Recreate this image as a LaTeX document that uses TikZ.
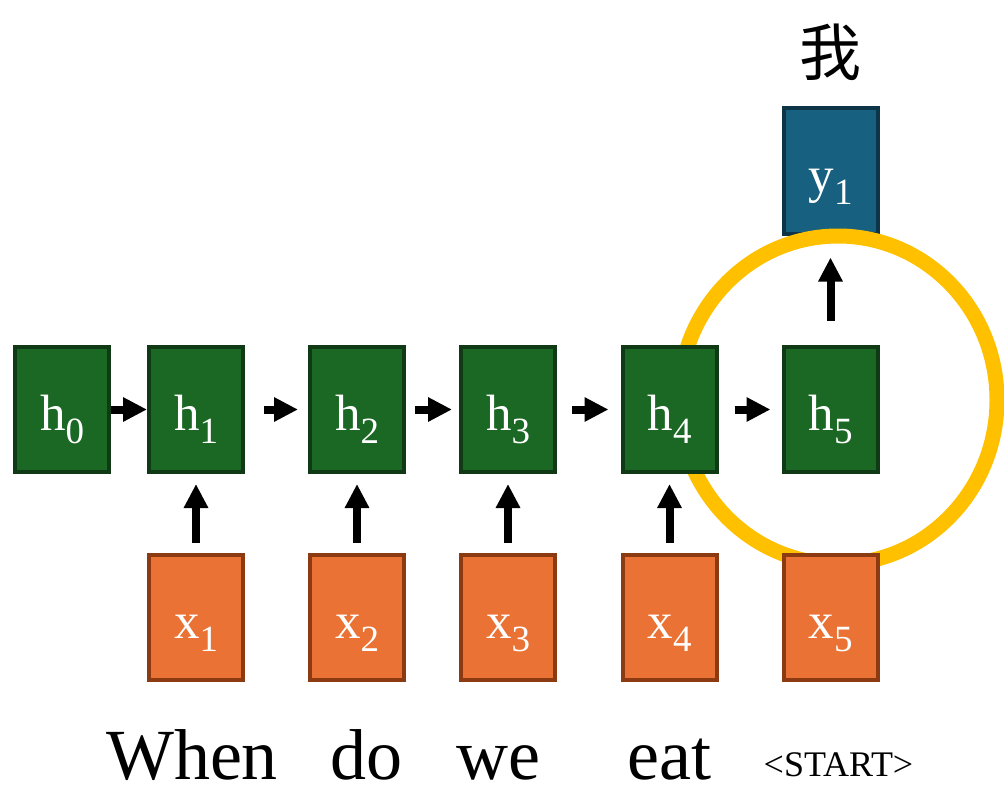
\documentclass[tikz,border=0pt]{standalone}
\usepackage{fontspec}
\setmainfont{Liberation Serif}
\newfontfamily\cjkfont{Noto Sans CJK SC}
\usetikzlibrary{arrows.meta, positioning}
\definecolor{hfill}{RGB}{27,104,36}
\definecolor{hedge}{RGB}{16,58,22}
\definecolor{xfill}{RGB}{234,114,52}
\definecolor{xedge}{RGB}{139,58,18}
\definecolor{yfill}{RGB}{23,96,128}
\definecolor{yedge}{RGB}{14,52,72}
\definecolor{ring}{RGB}{255,192,0}
\newcommand\cell[2]{\raisebox{-21pt}[0pt][0pt]{\fontsize{51}{51}\selectfont #1\raisebox{-13pt}{\fontsize{37}{37}\selectfont #2}}}
\tikzset{
  unit/.style   ={line width=4pt, minimum width=94pt, minimum height=125pt,
                  inner sep=0pt, text=white},
  hid/.style    ={unit, draw=hedge, fill=hfill},
  inp/.style    ={unit, draw=xedge, fill=xfill},
  outp/.style   ={unit, draw=yedge, fill=yfill},
  arr/.style    ={-{Triangle[length=24pt, width=23pt]}, line width=8pt},
  word/.style   ={anchor=base, inner sep=0pt, font=\fontsize{72}{72}\selectfont},
}
\begin{document}
\begin{tikzpicture}[x=1pt, y=-1pt]
  \useasboundingbox (0,0) rectangle (1004,789);

  % output first, the ring goes over it
  \node[outp] (y1) at (830.5,171) {\cell{y}{1}};
  \node[font=\cjkfont\fontsize{62}{62}\selectfont] (zh) at (830,52) {我};
  \draw[ring, line width=15pt] (838,400) ellipse [x radius=159, y radius=164];

  % hidden states and inputs
  \node[hid] (h0) at (62,409.5) {\cell{h}{0}};
  \foreach \i/\x in {1/196, 2/357, 3/508, 4/669.5, 5/830.5} {
    \node[hid] (h\i) at (\x,409.5) {\cell{h}{\i}};
    \node[inp] (x\i) at (\x,617.5) {\cell{x}{\i}};
  }
  \foreach \i in {1,...,4}
    \draw[arr, shorten <=10pt, shorten >=10pt] (x\i) -- (h\i);
  \foreach \a/\b/\s/\e in {h0/h1/0pt/0pt, h1/h2/19pt/10pt, h2/h3/9pt/7pt,
                           h3/h4/15pt/12pt, h4/h5/16pt/11pt}
    \draw[arr, shorten <=\s, shorten >=\e] (\a) -- (\b);
  \draw[arr, shorten <=24pt, shorten >=22pt] (h5) -- (y1);

  % words
  \node[word] (w1) at (192,779) {When};
  \node[word] (w2) at (366,779) {do};
  \node[word] (w3) at (498.5,779) {we};
  \node[word] (w4) at (669.5,779) {eat};
  \node[word, font=\fontsize{36}{36}\selectfont] (w5) at (838.5,776) {<START>};
\end{tikzpicture}
\end{document}
